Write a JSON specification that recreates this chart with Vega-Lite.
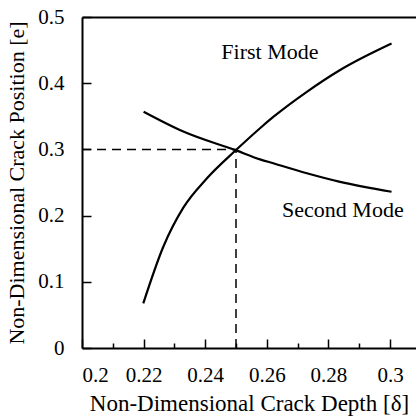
{
  "$schema": "https://vega.github.io/schema/vega-lite/v6.json",
  "width": 334,
  "height": 331,
  "autosize": {"type": "none"},
  "padding": {"left": 82, "top": 17, "right": 0, "bottom": 71},
  "background": "white",
  "config": {
    "view": {"stroke": null},
    "font": "Liberation Serif",
    "axis": {
      "grid": false,
      "domainColor": "black",
      "domainWidth": 2,
      "tickColor": "black",
      "tickWidth": 1.5,
      "labelFont": "Liberation Serif",
      "labelFontSize": 21,
      "labelColor": "black",
      "titleFont": "Liberation Serif",
      "titleFontSize": 22,
      "titleFontWeight": "normal",
      "titleColor": "black"
    }
  },
  "resolve": {"axis": {"x": "independent"}},
  "datasets": {
    "curves": [
      {"mode": "First", "delta": 0.2199, "e": 0.0675},
      {"mode": "First", "delta": 0.2264, "e": 0.153},
      {"mode": "First", "delta": 0.2329, "e": 0.212},
      {"mode": "First", "delta": 0.2405, "e": 0.256},
      {"mode": "First", "delta": 0.25, "e": 0.299},
      {"mode": "First", "delta": 0.2578, "e": 0.332},
      {"mode": "First", "delta": 0.2621, "e": 0.349},
      {"mode": "First", "delta": 0.273, "e": 0.387},
      {"mode": "First", "delta": 0.2838, "e": 0.42},
      {"mode": "First", "delta": 0.3005, "e": 0.46},
      {"mode": "Second", "delta": 0.22, "e": 0.357},
      {"mode": "Second", "delta": 0.2329, "e": 0.327},
      {"mode": "Second", "delta": 0.25, "e": 0.2985},
      {"mode": "Second", "delta": 0.2578, "e": 0.285},
      {"mode": "Second", "delta": 0.2621, "e": 0.279},
      {"mode": "Second", "delta": 0.273, "e": 0.264},
      {"mode": "Second", "delta": 0.2838, "e": 0.251},
      {"mode": "Second", "delta": 0.3005, "e": 0.236}
    ],
    "guides": [
      {"x": 0.2, "x2": 0.25, "y": 0.3, "y2": 0.3},
      {"x": 0.25, "x2": 0.25, "y": 0.0, "y2": 0.3}
    ],
    "labels": [
      {"x": 0.261, "y": 0.447, "text": "First Mode"},
      {"x": 0.2847, "y": 0.2085, "text": "Second Mode"}
    ]
  },
  "layer": [
    {
      "data": {"name": "curves"},
      "mark": {"type": "line", "color": "black", "strokeWidth": 2.2, "interpolate": "monotone"},
      "encoding": {
        "x": {
          "field": "delta", "type": "quantitative",
          "scale": {"domain": [0.2, 0.30844], "nice": false, "zero": false},
          "axis": {
            "title": "Non-Dimensional Crack Depth  [δ]",
            "titleFontSize": 23,
            "values": [0.2, 0.21, 0.22, 0.23, 0.24, 0.25, 0.26, 0.27, 0.28, 0.29, 0.3],
            "format": "~g",
            "labelExpr": "round(datum.value*100) % 2 == 0 ? datum.label : ''",
            "tickSize": {"condition": {"test": "round(datum.value*100) % 2 != 0", "value": -5}, "value": -9},
            "labelPadding": 25,
            "titlePadding": 7
          }
        },
        "y": {
          "field": "e", "type": "quantitative",
          "scale": {"domain": [0, 0.5], "nice": false},
          "axis": {
            "title": "Non-Dimensional Crack Position  [e]",
            "values": [0, 0.1, 0.2, 0.3, 0.4, 0.5],
            "format": "~g",
            "tickSize": -9,
            "labelPadding": 27,
            "titlePadding": 9
          }
        },
        "detail": {"field": "mode"}
      }
    },
    {
      "data": {"name": "guides"},
      "mark": {"type": "rule", "color": "black", "strokeWidth": 1.5, "strokeDash": [9, 6]},
      "encoding": {
        "x": {"field": "x", "type": "quantitative", "axis": null},
        "x2": {"field": "x2"},
        "y": {"field": "y", "type": "quantitative"},
        "y2": {"field": "y2"}
      }
    },
    {
      "data": {"name": "labels"},
      "mark": {"type": "text", "font": "Liberation Serif", "fontSize": 22, "color": "black", "align": "center", "baseline": "middle"},
      "encoding": {
        "x": {"field": "x", "type": "quantitative", "axis": {"orient": "top", "title": null, "labels": false, "ticks": false, "domain": true}},
        "y": {"field": "y", "type": "quantitative"},
        "text": {"field": "text"}
      }
    }
  ]
}
